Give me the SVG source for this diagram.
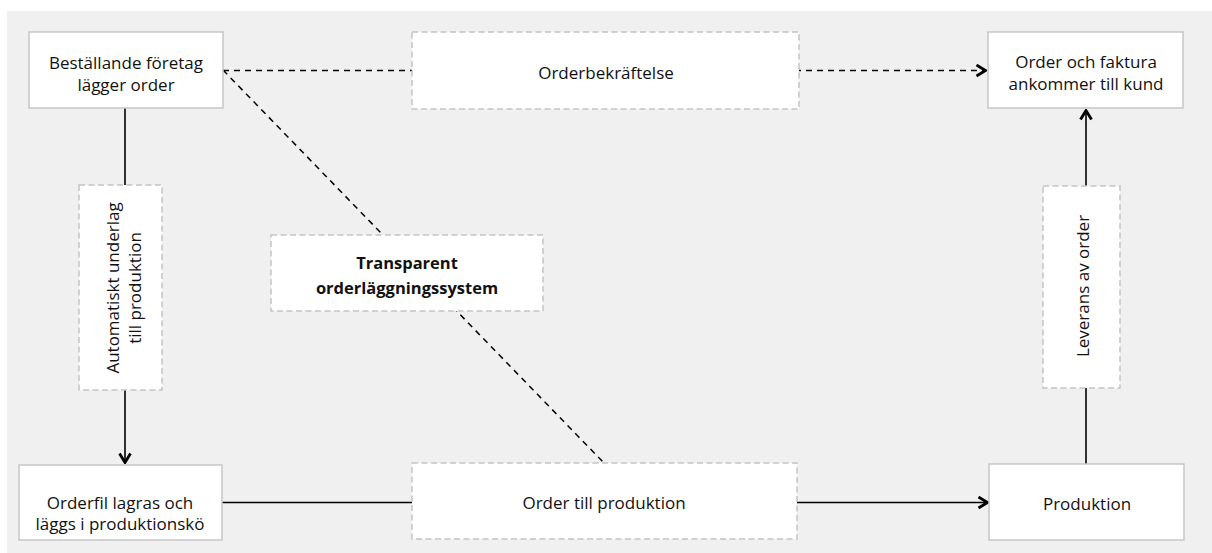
<svg xmlns="http://www.w3.org/2000/svg" width="1212" height="553" viewBox="0 0 1212 553">
<style>
.bg{fill:#f0f0f0}
.node{fill:#ffffff;stroke:#c6c6c6;stroke-width:1.5}
.lbl{fill:#ffffff;stroke:#c3c3c3;stroke-width:1.5;stroke-dasharray:6 3.5}
.t{font-family:"Open Sans","Liberation Sans",sans-serif;font-size:17px;fill:#111;text-anchor:middle;dominant-baseline:central}
.b{font-weight:bold;font-size:16.5px}
.solid{fill:none;stroke:#000;stroke-width:1.6}
.dash{fill:none;stroke:#000;stroke-width:1.5;stroke-dasharray:6 5}
</style>
<defs>
<marker id="arr" viewBox="0 0 12 14" refX="11" refY="7" markerWidth="12" markerHeight="14" markerUnits="userSpaceOnUse" orient="auto">
<polyline points="1.5,1.5 10.5,7 1.5,12.5" fill="none" stroke="#000" stroke-width="2.8"/>
</marker>
</defs>
<rect class="bg" x="7" y="11" width="1205" height="542"/>
<g id="connectors">
<line class="dash" x1="223" y1="70.5" x2="986" y2="70.5" marker-end="url(#arr)"/>
<line class="dash" x1="223" y1="70" x2="604" y2="463"/>
<line class="solid" x1="125" y1="108" x2="125" y2="463" marker-end="url(#arr)"/>
<line class="solid" x1="222" y1="502.5" x2="988" y2="502.5" marker-end="url(#arr)"/>
<line class="solid" x1="1086" y1="464" x2="1086" y2="110" marker-end="url(#arr)"/>
</g>
<g id="n1">
<rect class="node" x="29" y="32" width="194" height="76"/>
<text class="t" x="126" y="62">Beställande företag</text>
<text class="t" x="126" y="84">lägger order</text>
</g>
<g id="n2">
<rect class="node" x="988" y="32" width="195" height="76"/>
<text class="t" x="1086" y="61">Order och faktura</text>
<text class="t" x="1086" y="83">ankommer till kund</text>
</g>
<g id="n3">
<rect class="node" x="19" y="465" width="203" height="75"/>
<text class="t" x="120" y="502">Orderfil lagras och</text>
<text class="t" x="120" y="523">läggs i produktionskö</text>
</g>
<g id="n4">
<rect class="node" x="989" y="464" width="195" height="76"/>
<text class="t" x="1087" y="503">Produktion</text>
</g>
<g id="l1">
<rect class="lbl" x="412" y="32" width="387" height="77"/>
<text class="t" x="606" y="72">Orderbekräftelse</text>
</g>
<g id="l2">
<rect class="lbl" x="79" y="185" width="83" height="205"/>
<text class="t" transform="translate(112,288) rotate(-90)" x="0" y="0">Automatiskt underlag</text>
<text class="t" transform="translate(134,288) rotate(-90)" x="0" y="0">till produktion</text>
</g>
<g id="l3">
<rect class="lbl" x="271" y="235" width="272" height="76"/>
<text class="t b" x="407" y="262">Transparent</text>
<text class="t b" x="407" y="287">orderläggningssystem</text>
</g>
<g id="l4">
<rect class="lbl" x="1043" y="186" width="77" height="202"/>
<text class="t" transform="translate(1082,286) rotate(-90)" x="0" y="0">Leverans av order</text>
</g>
<g id="l5">
<rect class="lbl" x="412" y="463" width="385" height="76"/>
<text class="t" x="604" y="502">Order till produktion</text>
</g>
</svg>
